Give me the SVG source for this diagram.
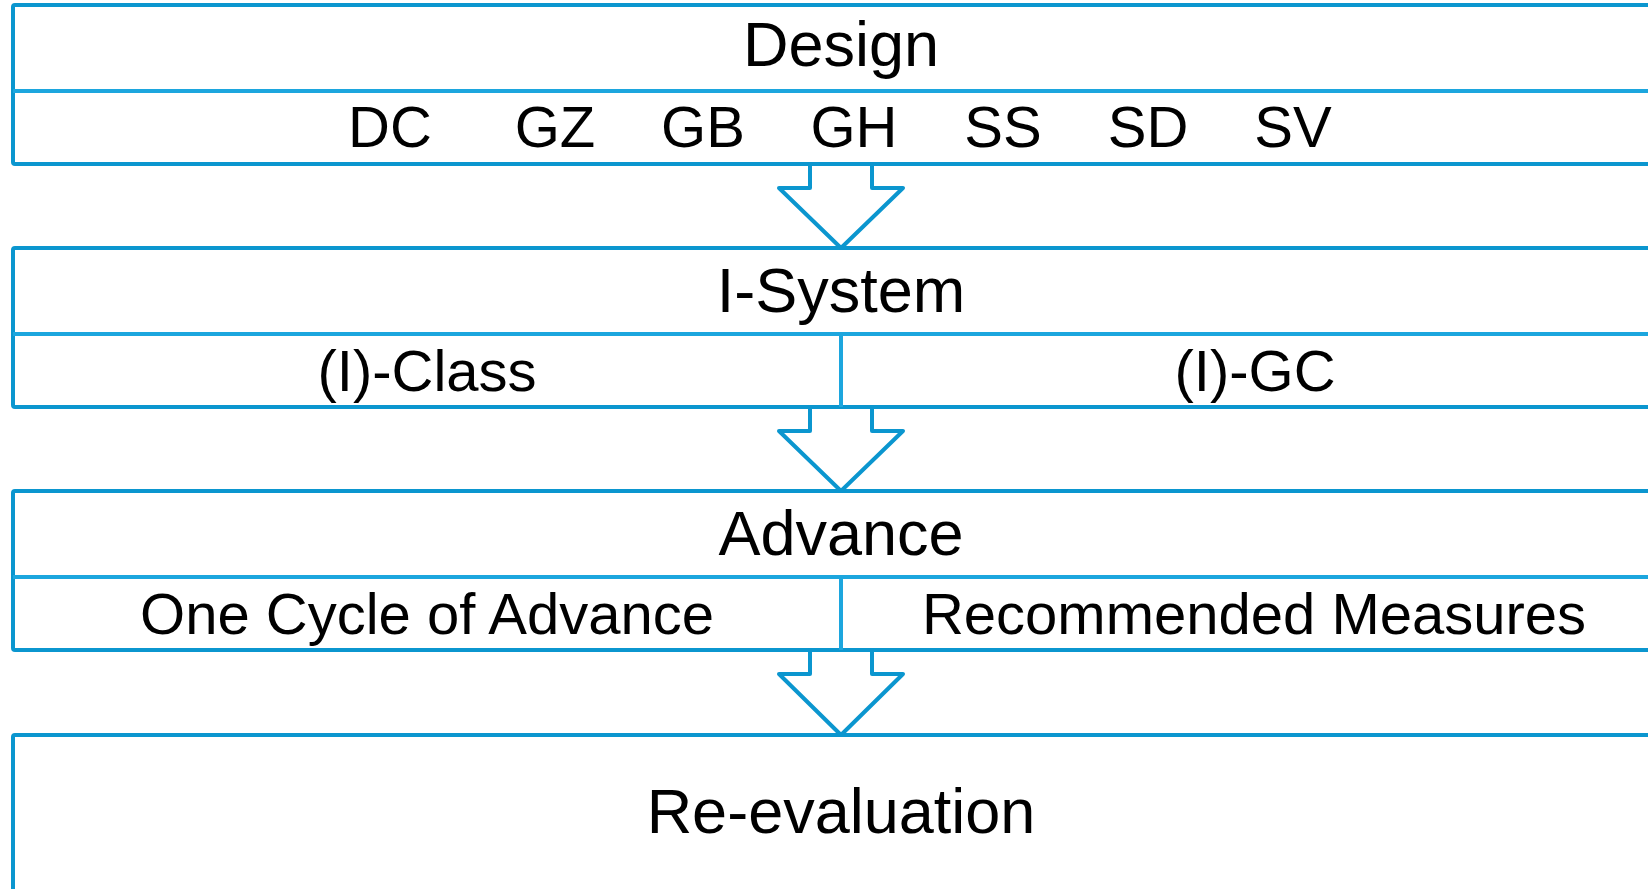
<svg xmlns="http://www.w3.org/2000/svg" width="1648" height="889" viewBox="0 0 1648 889">
<style>
.box{fill:#ffffff;stroke:#0b96cf;stroke-width:4;stroke-linejoin:round}
.div{fill:none;stroke:#1ca6de;stroke-width:4}
.arrow{fill:none;stroke:#0b96cf;stroke-width:4;stroke-linejoin:round;stroke-linecap:round}
text{font-family:"Liberation Sans",Arial,sans-serif;fill:#000000;text-anchor:middle}
.t{font-size:63px}
.s{font-size:58px}
</style>
<rect width="1648" height="889" fill="#ffffff"/>
<g id="design">
<rect class="box" x="13" y="5" width="1700" height="159" rx="2"/>
<line class="div" x1="13" y1="91" x2="1660" y2="91"/>
<text class="t" x="841" y="66">Design</text>
<text class="s" x="390" y="147">DC</text>
<text class="s" x="555" y="147">GZ</text>
<text class="s" x="703" y="147">GB</text>
<text class="s" x="854" y="147">GH</text>
<text class="s" x="1003" y="147">SS</text>
<text class="s" x="1148" y="147">SD</text>
<text class="s" x="1293" y="147">SV</text>
</g>
<g id="isystem">
<rect class="box" x="13" y="248" width="1700" height="159" rx="2"/>
<line class="div" x1="13" y1="334" x2="1660" y2="334"/>
<line class="div" x1="841" y1="334" x2="841" y2="407"/>
<text class="t" x="841" y="312">I-System</text>
<text class="s" x="427" y="391">(I)-Class</text>
<text class="s" x="1255" y="391">(I)-GC</text>
</g>
<g id="advance">
<rect class="box" x="13" y="491" width="1700" height="159" rx="2"/>
<line class="div" x1="13" y1="577" x2="1660" y2="577"/>
<line class="div" x1="841" y1="577" x2="841" y2="650"/>
<text class="t" x="841" y="555">Advance</text>
<text class="s" x="427" y="634">One Cycle of Advance</text>
<text class="s" x="1254" y="634">Recommended Measures</text>
</g>
<g id="reevaluation">
<rect class="box" x="13" y="735" width="1700" height="200" rx="2"/>
<text class="t" x="841" y="833">Re-evaluation</text>
</g>
<g id="connectors">
<path class="arrow" d="M810,164 V188 H779 L841,248 L903,188 H872 V164"/>
<path class="arrow" d="M810,407 V431 H779 L841,491 L903,431 H872 V407"/>
<path class="arrow" d="M810,650 V674 H779 L841,735 L903,674 H872 V650"/>
</g>
</svg>
